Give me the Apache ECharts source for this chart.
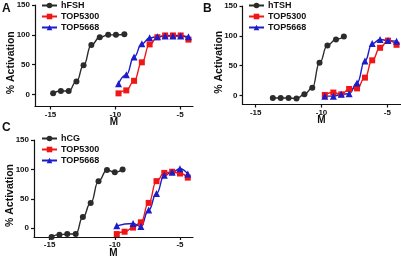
<!DOCTYPE html>
<html>
<head>
<meta charset="utf-8">
<script src="https://cdn.jsdelivr.net/npm/echarts@6/dist/echarts.min.js"></script>
<style>
html, body { margin: 0; padding: 0; background: #fff; }
#chart { width: 401px; height: 261px; }
</style>
</head>
<body>
<div id="chart"></div>
<script>
// panel A: FSH receptor
const xA_hFSH = [-14.8, -14.2, -13.6, -13.0, -12.45, -11.85, -11.2, -10.55, -9.95, -9.3];
const yA_hFSH = [2, 6, 6, 22, 49, 83, 96, 100, 100, 101];
const xA_top = [-9.75, -9.15, -8.55, -7.95, -7.35, -6.75, -6.15, -5.55, -4.95, -4.35];
const yA_top5300 = [2, 7, 23, 54, 84, 96, 99, 99, 99, 92];
const yA_top5668 = [18, 33, 63, 85, 95, 97, 98, 98, 98, 97];

// panel B: TSH receptor
const xB_hTSH = [-13.7, -13.1, -12.5, -11.9, -11.3, -10.7, -10.15, -9.55, -8.9, -8.3];
const yB_hTSH = [-4, -4, -4, -5, 2, 13, 55, 84, 94, 99];
const xB_top = [-9.75, -9.1, -8.5, -7.9, -7.3, -6.7, -6.15, -5.55, -4.95, -4.3];
const yB_top5300 = [1, 5, 2, 11, 12, 30, 59, 80, 92, 85];
const yB_top5668 = [-1, -1, 2, 3, 21, 58, 87, 94, 92, 91];

// panel C: LH/CG receptor
const xC_hCG = [-14.85, -14.25, -13.65, -13.0, -12.45, -11.85, -11.25, -10.6, -10.0, -9.4];
const yC_hCG = [-15, -11, -10, -10, 19, 43, 80, 99, 95, 100];
const xC_top5300 = [-9.85, -9.25, -8.6, -8.0, -7.4, -6.8, -6.2, -5.6, -5.0, -4.4];
const yC_top5300 = [-10, -6, 1, 10, 43, 80, 94, 96, 93, 86];
const xC_top5668 = [-9.85, -8.6, -8.0, -7.4, -6.8, -6.2, -5.6, -5.0, -4.4];
const yC_top5668 = [4, 8, 3, 31, 59, 90, 95, 101, 92];

const yTicks = [0, 50, 100, 150];
const xTicks = [-15, -10, -5];

const FONT = 'Arial, "Liberation Sans", sans-serif';
const BLACK = "#2b2b2b";
const RED = "#f01616";
const BLUE = "#1c1cc8";

const pairs = (xs, ys) => xs.map((x, i) => [x, ys[i]]);

const line = (name, xs, ys, color, symbol, size, idx) => ({
    name,
    type: "line",
    xAxisIndex: idx,
    yAxisIndex: idx,
    data: pairs(xs, ys),
    smooth: 0.5,
    smoothMonotone: "x",
    symbol,
    symbolSize: size,
    clip: false,
    lineStyle: { color, width: 1.4 },
    itemStyle: { color },
    emphasis: { disabled: true }
});

const xAxis = (idx, min, max) => ({
    type: "value",
    gridIndex: idx,
    min,
    max,
    name: "M",
    nameLocation: "middle",
    nameGap: 11,
    nameMoveOverlap: false,
    nameTextStyle: { fontFamily: FONT, fontSize: 10, fontWeight: "bold", color: "#111" },
    splitLine: { show: false },
    axisLine: { show: true, onZero: false, lineStyle: { color: "#111", width: 1.2 } },
    axisTick: { show: true, length: 3, customValues: xTicks, lineStyle: { color: "#111", width: 1.2 } },
    axisLabel: { customValues: xTicks, margin: 4, fontFamily: FONT, fontSize: 8, fontWeight: "bold", color: "#111" }
});

const yAxis = (idx, min) => ({
    type: "value",
    gridIndex: idx,
    min,
    max: 150,
    name: "% Activation",
    nameLocation: "middle",
    nameRotate: 90,
    nameGap: 18,
    nameMoveOverlap: false,
    nameTextStyle: { fontFamily: FONT, fontSize: 10.5, fontWeight: "bold", color: "#111", padding: [0, 14, 0, 0] },
    splitLine: { show: false },
    axisLine: { show: true, lineStyle: { color: "#111", width: 1.2 } },
    axisTick: { show: true, length: 3, customValues: yTicks, lineStyle: { color: "#111", width: 1.2 } },
    axisLabel: { customValues: yTicks, margin: 5, fontFamily: FONT, fontSize: 8, fontWeight: "bold", color: "#111" }
});

const legend = (names, left, top) => ({
    data: names,
    orient: "vertical",
    left,
    top,
    padding: 0,
    itemWidth: 15,
    itemHeight: 7,
    itemGap: 2,
    selectedMode: false,
    textStyle: { fontFamily: FONT, fontSize: 9, fontWeight: "bold", color: "#111", padding: [0, 0, 0, -1] }
});

const panelTitle = (text, left, top) => ({
    text,
    left,
    top,
    padding: 0,
    textStyle: { fontFamily: FONT, fontSize: 12, fontWeight: "bold", color: "#111" }
});

const chart = echarts.init(document.getElementById("chart"), null, { renderer: "canvas" });

chart.setOption({
    animation: false,
    title: [panelTitle("A", 2, 3), panelTitle("B", 203, 3), panelTitle("C", 2, 122)],
    legend: [
        legend(["hFSH", "TOP5300", "TOP5668"], 41, 1),
        legend(["hTSH", "TOP5300", "TOP5668"], 248, 1),
        legend(["hCG", "TOP5300", "TOP5668"], 41, 134)
    ],
    grid: [
        { left: 35, top: 5, width: 158, height: 101.5 },
        { left: 242.5, top: 6, width: 158, height: 98.5 },
        { left: 34, top: 140, width: 159, height: 97 }
    ],
    xAxis: [xAxis(0, -16.2, -4), xAxis(1, -16, -4), xAxis(2, -16.2, -4)],
    yAxis: [yAxis(0, -20), yAxis(1, -15), yAxis(2, -15)],
    series: [
        line("hFSH", xA_hFSH, yA_hFSH, BLACK, "circle", 6, 0),
        line("TOP5300", xA_top, yA_top5300, RED, "rect", 6, 0),
        line("TOP5668", xA_top, yA_top5668, BLUE, "triangle", 7, 0),
        line("hTSH", xB_hTSH, yB_hTSH, BLACK, "circle", 6, 1),
        line("TOP5300", xB_top, yB_top5300, RED, "rect", 6, 1),
        line("TOP5668", xB_top, yB_top5668, BLUE, "triangle", 7, 1),
        line("hCG", xC_hCG, yC_hCG, BLACK, "circle", 6, 2),
        line("TOP5300", xC_top5300, yC_top5300, RED, "rect", 6, 2),
        line("TOP5668", xC_top5668, yC_top5668, BLUE, "triangle", 7, 2)
    ]
});
</script>
</body>
</html>
